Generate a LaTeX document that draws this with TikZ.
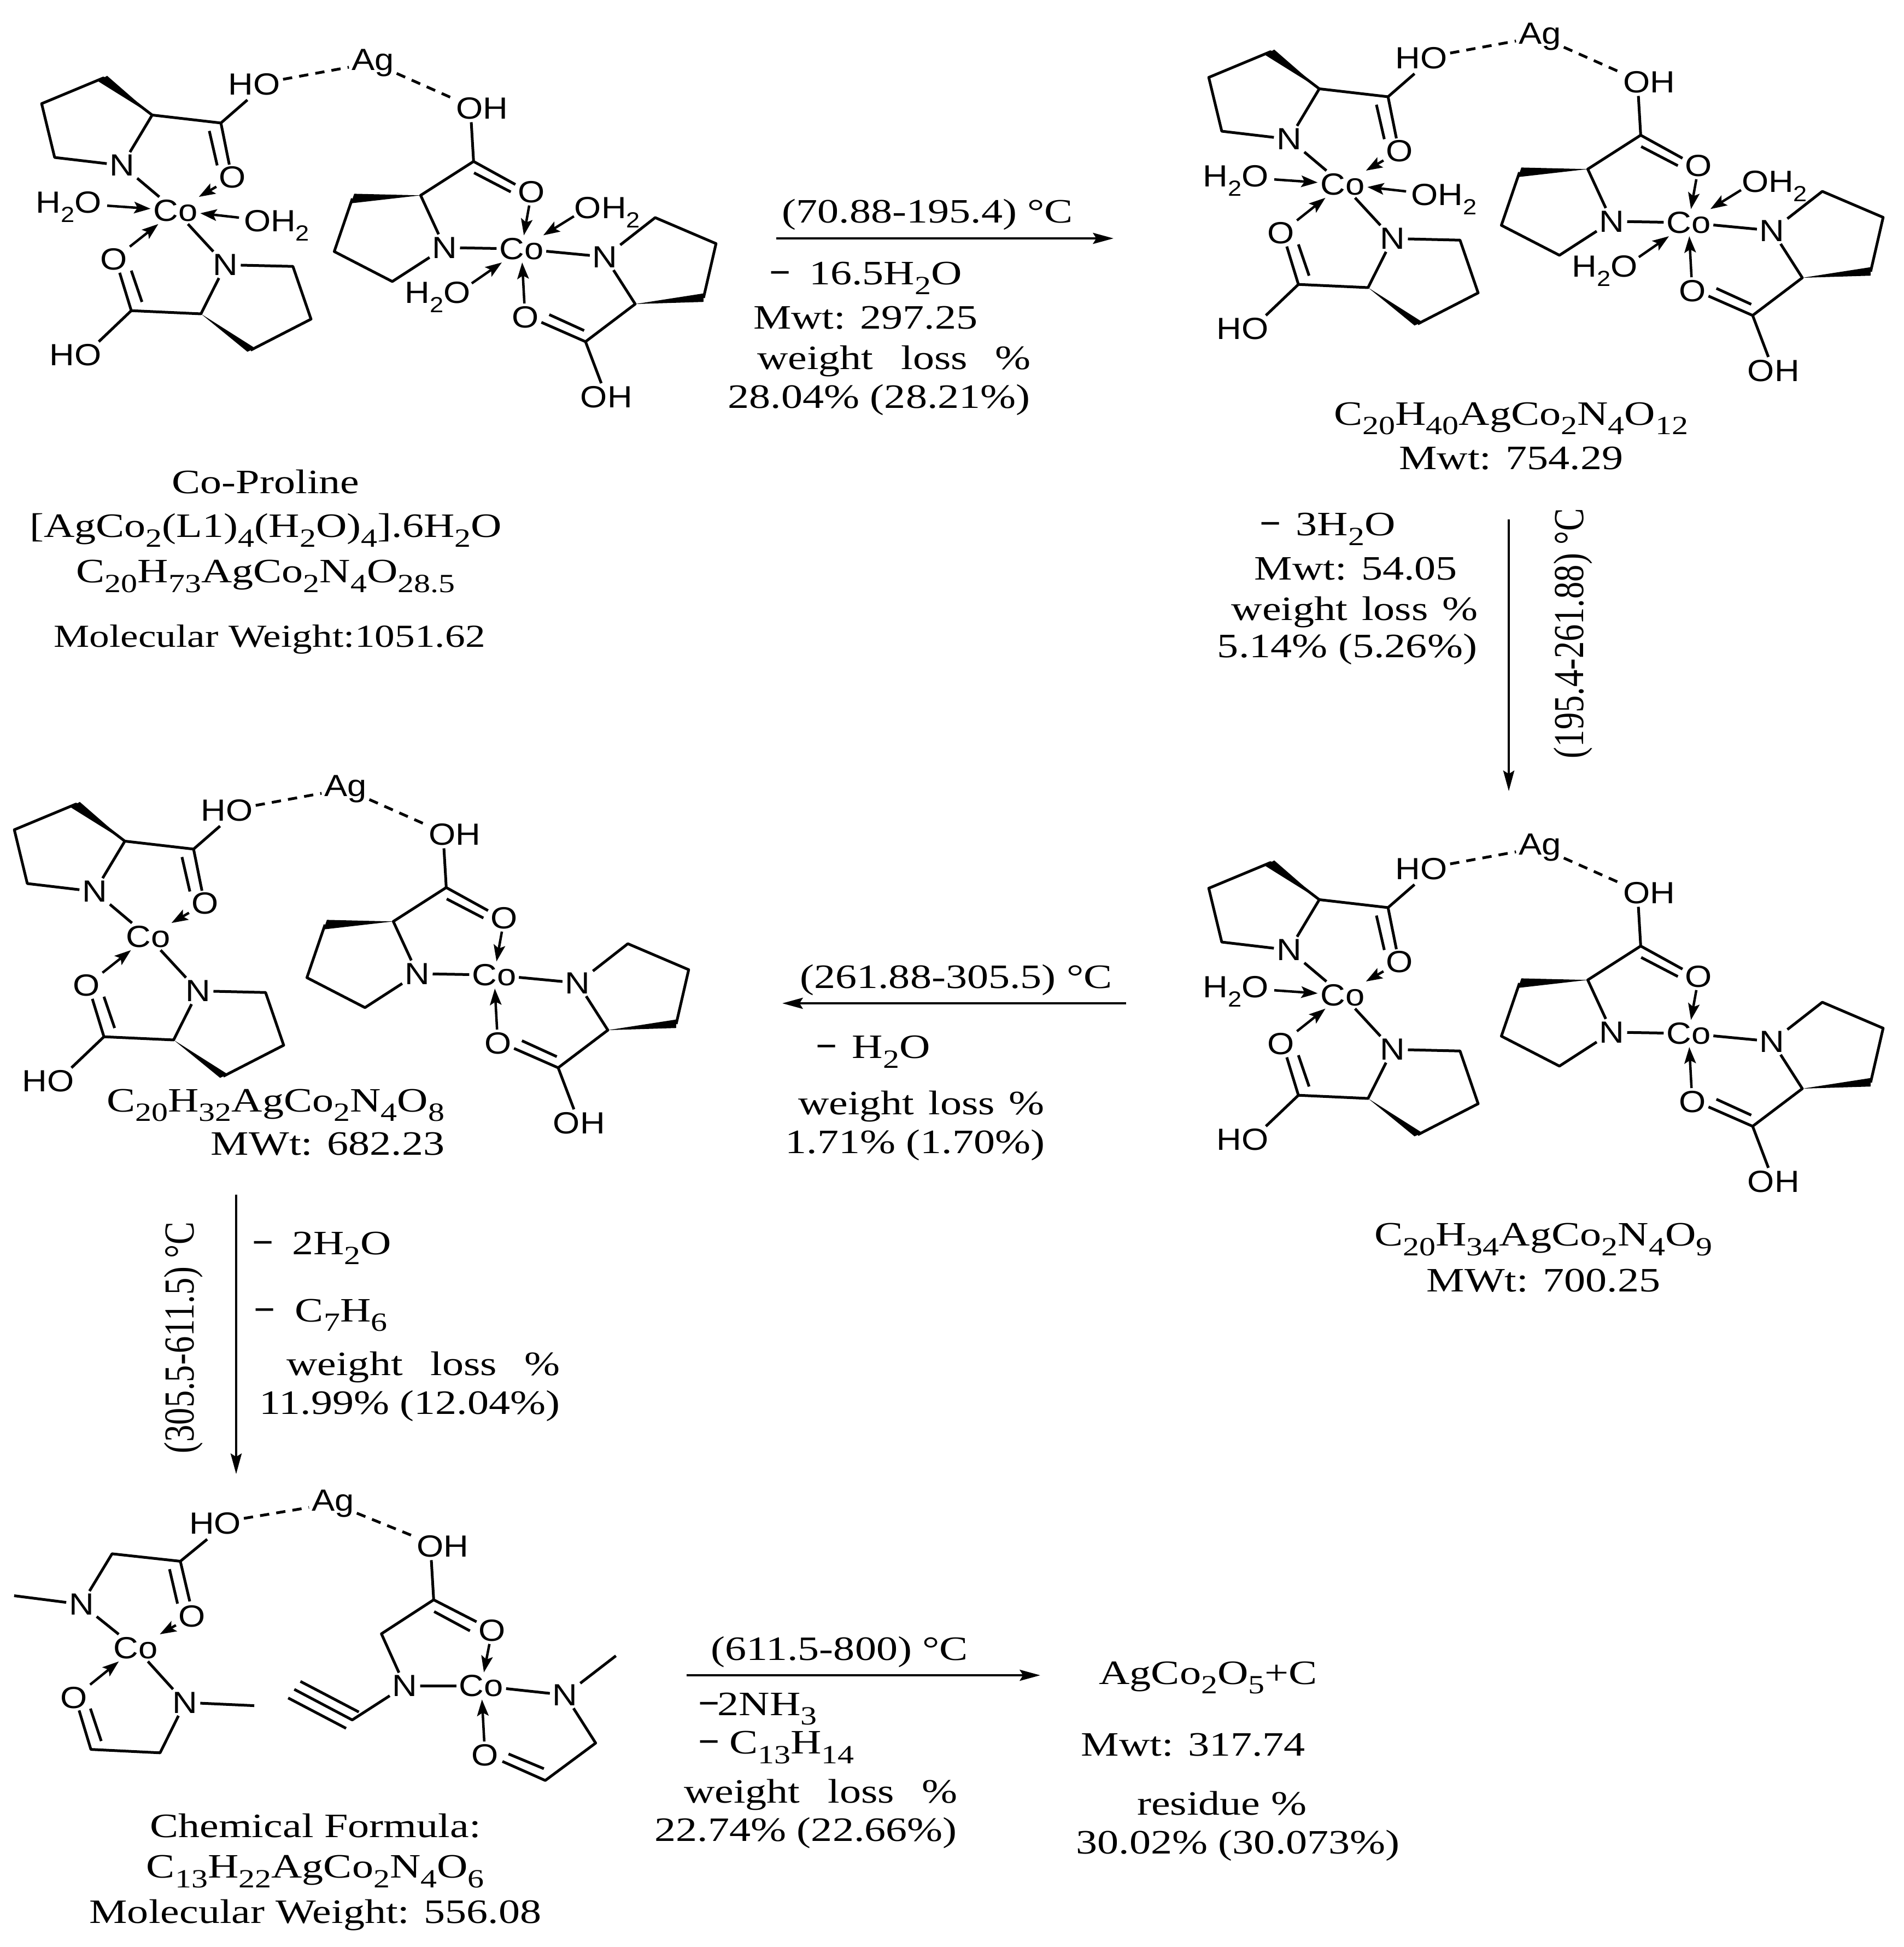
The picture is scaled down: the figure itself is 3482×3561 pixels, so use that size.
\documentclass[tikz,border=0pt]{standalone}
\usepackage{fontspec}
\usetikzlibrary{arrows.meta}
\setmainfont{Liberation Serif}[FakeStretch=1.25]
\newfontfamily\rawserif{Liberation Serif}
\newfontfamily\chem{Liberation Sans}[FakeStretch=1.13]
\newcommand\sbt[1]{\raisebox{-0.28em}{\fontsize{9.6}{10}\selectfont #1}}
\newcommand\sbc[1]{\raisebox{-0.3em}{\fontsize{8}{9}\selectfont #1}}
\newcommand\mn{\scalebox{0.8}[1.5]{–}}
\tikzset{
  atom/.style={font=\chem\fontsize{11.2}{13}\selectfont,inner sep=0.8pt},
  txt/.style={font=\fontsize{12.5}{14}\selectfont,inner sep=0pt},
  bond/.style={line width=1pt,line join=round},
  dashbond/.style={line width=1pt,dash pattern=on 3.4pt off 2.6pt},
  coord/.style={line width=0.9pt,-{Stealth[length=6pt,width=4.2pt,inset=1.2pt]}},
  rxn/.style={line width=0.9pt,-{Stealth[length=7.5pt,width=4pt,inset=1.2pt]}},
  tpl/.style 2 args={shift={(2150+#1,#2)},x=0.16992pt,y=-0.09695pt},
  tple/.style={shift={(0,2700)},x=0.17227pt,y=-0.08292pt},
  shr/.style={shift={(0,4.5)},x=0.45428pt,y=-0.45428pt}
}
% the repeated silver-bridged proline dimer
\newcommand\dimer[3]{%
\begin{scope}[tpl={#2}{#3}]
  \node[atom] (#1Ag) at (785,138) {Ag};
  \node[atom] (#1HOa) at (530,220) {HO};
  \node[atom] (#1OHb) at (1020,310) {OH};
  \node[atom] (#1Na) at (245,525) {N};
  \node[atom] (#1Oa) at (483,570) {O};
  \node[atom] (#1CoL) at (360,695) {Co};
  \node[atom] (#1Oc) at (227,880) {O};
  \node[atom] (#1Nc) at (468,900) {N};
  \node[atom] (#1HOc) at (145,1240) {HO};
  \node[atom] (#1Ob) at (1127,625) {O};
  \node[atom] (#1Nb) at (940,835) {N};
  \node[atom] (#1CoR) at (1105,840) {Co};
  \node[atom] (#1Nd) at (1285,870) {N};
  \node[atom] (#1Od) at (1113,1097) {O};
  \node[atom] (#1OHd) at (1288,1398) {OH};
  \coordinate (#1a1) at (310,335);
  \coordinate (#1a2) at (458,365);
  \coordinate (#1a3) at (205,195);
  \coordinate (#1a4) at (72,292);
  \coordinate (#1a5) at (100,495);
  \coordinate (#1w1) at (213,187);
  \coordinate (#1w2) at (193,207);
  \coordinate (#1a6) at (433,395);
  \coordinate (#1a7) at (450,525);
  \coordinate (#1a8) at (515,278);
  \coordinate (#1a9) at (476,522);
  \coordinate (#1c1) at (415,1085);
  \coordinate (#1c2) at (265,1073);
  \coordinate (#1c3) at (613,906);
  \coordinate (#1c4) at (652,1105);
  \coordinate (#1c5) at (522,1222);
  \coordinate (#1w3) at (532,1215);
  \coordinate (#1w4) at (515,1228);
  \coordinate (#1c6) at (240,930);
  \coordinate (#1c7) at (288,1040);
  \coordinate (#1c8) at (265,922);
  \coordinate (#1c9) at (195,1190);
  \coordinate (#1d0) at (965,278);
  \coordinate (#1d1) at (997,362);
  \coordinate (#1d2) at (1002,510);
  \coordinate (#1d3) at (1092,597);
  \coordinate (#1d4) at (1003,553);
  \coordinate (#1d5) at (1082,625);
  \coordinate (#1d6) at (888,638);
  \coordinate (#1w5) at (745,632);
  \coordinate (#1w6) at (738,668);
  \coordinate (#1d7) at (741,650);
  \coordinate (#1d8) at (702,850);
  \coordinate (#1d9) at (827,963);
  \coordinate (#1e1) at (1393,722);
  \coordinate (#1e2) at (1524,820);
  \coordinate (#1e3) at (1497,1025);
  \coordinate (#1w7) at (1497,1008);
  \coordinate (#1w8) at (1497,1040);
  \coordinate (#1e4) at (1350,1048);
  \coordinate (#1e5) at (1243,1190);
  \coordinate (#1e6) at (1148,1117);
  \coordinate (#1e7) at (1240,1148);
  \coordinate (#1e8) at (1165,1088);
\end{scope}
\draw[dashbond] (#1HOa) -- (#1Ag);
\draw[dashbond] (#1Ag) -- (#1d0);
\draw[bond] (#1a1) -- (#1a3) -- (#1a4) -- (#1a5) -- (#1Na);
\fill (#1a1) -- (#1w1) -- (#1w2) -- cycle;
\draw[bond] (#1Na) -- (#1a1) -- (#1a2) -- (#1a8);
\draw[bond] (#1a2) -- (#1a9);
\draw[bond] (#1a6) -- (#1a7);
\draw[coord] (#1Oa) -- (#1CoL);
\draw[bond] (#1Na) -- (#1CoL);
\draw[coord] (#1Oc) -- (#1CoL);
\draw[bond] (#1CoL) -- (#1Nc);
\draw[bond] (#1Nc) -- (#1c3) -- (#1c4) -- (#1c5);
\fill (#1c1) -- (#1w3) -- (#1w4) -- cycle;
\draw[bond] (#1Nc) -- (#1c1) -- (#1c2) -- (#1c6);
\draw[bond] (#1c7) -- (#1c8);
\draw[bond] (#1c2) -- (#1c9);
\draw[bond] (#1d1) -- (#1d2) -- (#1d3);
\draw[bond] (#1d4) -- (#1d5);
\draw[coord] (#1Ob) -- (#1CoR);
\draw[bond] (#1d2) -- (#1d6) -- (#1Nb) -- (#1d9) -- (#1d8) -- (#1d7);
\fill (#1d6) -- (#1w5) -- (#1w6) -- cycle;
\draw[bond] (#1Nb) -- (#1CoR) -- (#1Nd);
\draw[bond] (#1Nd) -- (#1e1) -- (#1e2) -- (#1e3);
\fill (#1e4) -- (#1w7) -- (#1w8) -- cycle;
\draw[bond] (#1Nd) -- (#1e4) -- (#1e5) -- (#1OHd);
\draw[bond] (#1e5) -- (#1e6);
\draw[bond] (#1e7) -- (#1e8);
\draw[coord] (#1Od) -- (#1CoR);
}
\newcommand\waterone[3]{%
\begin{scope}[tpl={#2}{#3}]
  \node[atom] (#1Wa) at (130,682) {H\sbc{2}O};
  \coordinate (#1Was) at (213,677);
\end{scope}
\draw[coord] (#1Was) -- (#1CoL);
}
\newcommand\waterthree[3]{%
\begin{scope}[tpl={#2}{#3}]
  \node[atom] (#1Wb) at (578,752) {OH\sbc{2}};
  \coordinate (#1Wbs) at (497,722);
  \node[atom] (#1Wc) at (925,1022) {H\sbc{2}O};
  \coordinate (#1Wcs) at (998,970);
  \node[atom] (#1Wd) at (1290,702) {OH\sbc{2}};
  \coordinate (#1Wds) at (1218,717);
\end{scope}
\draw[coord] (#1Wbs) -- (#1CoL);
\draw[coord] (#1Wcs) -- (#1CoR);
\draw[coord] (#1Wds) -- (#1CoR);
}
\begin{document}
\begin{tikzpicture}[x=0.2pt,y=-0.2pt]
\path[use as bounding box] (0,0) rectangle (3482,3561);
\dimer{a}{-2135}{48}
\waterone{a}{-2135}{48}
\waterthree{a}{-2135}{48}
\dimer{b}{0}{0}
\waterone{b}{0}{0}
\waterthree{b}{0}{0}
\dimer{d}{0}{1483}
\waterone{d}{0}{1483}
\dimer{c}{-2185}{1376}
% last structure
\begin{scope}[tple]
  \node[atom] (eAg) at (707,120) {Ag};
  \node[atom] (eHOa) at (457,207) {HO};
  \node[atom] (eOHb) at (940,310) {OH};
  \node[atom] (eNa) at (173,565) {N};
  \node[atom] (eOa) at (408,617) {O};
  \node[atom] (eCoL) at (288,757) {Co};
  \node[atom] (eOc) at (157,977) {O};
  \node[atom] (eNc) at (393,998) {N};
  \node[atom] (eOb) at (1045,680) {O};
  \node[atom] (eNb) at (860,925) {N};
  \node[atom] (eCoR) at (1022,925) {Co};
  \node[atom] (eNd) at (1200,965) {N};
  \node[atom] (eOd) at (1030,1230) {O};
  \coordinate (ed0) at (885,270);
  \coordinate (eo1) at (440,278);
  \coordinate (ec1) at (383,375);
  \coordinate (ec2) at (238,342);
  \coordinate (ec3) at (403,552);
  \coordinate (ec4) at (360,410);
  \coordinate (ec5) at (377,562);
  \coordinate (em1) at (30,527);
  \coordinate (em2) at (540,1012);
  \coordinate (ef1) at (340,1220);
  \coordinate (ef2) at (193,1205);
  \coordinate (ef3) at (168,1033);
  \coordinate (ef4) at (215,1168);
  \coordinate (ef5) at (192,1025);
  \coordinate (er1) at (916,370);
  \coordinate (er2) at (921,545);
  \coordinate (er3) at (1012,642);
  \coordinate (er4) at (922,597);
  \coordinate (er5) at (998,682);
  \coordinate (er6) at (810,695);
  \coordinate (et0) at (748,1075);
  \coordinate (et1) at (625,940);
  \coordinate (et2) at (762,1040);
  \coordinate (et3) at (638,905);
  \coordinate (et4) at (735,1112);
  \coordinate (et5) at (612,978);
  \coordinate (em3) at (1308,792);
  \coordinate (eg1) at (1265,1177);
  \coordinate (eg2) at (1158,1342);
  \coordinate (eg3) at (1067,1258);
  \coordinate (eg4) at (1155,1290);
  \coordinate (eg5) at (1080,1225);
\end{scope}
\draw[dashbond] (eHOa) -- (eAg);
\draw[dashbond] (eAg) -- (ed0);
\draw[bond] (eNa) -- (ec2) -- (ec1) -- (eo1);
\draw[bond] (ec1) -- (ec3);
\draw[bond] (ec4) -- (ec5);
\draw[coord] (eOa) -- (eCoL);
\draw[bond] (em1) -- (eNa) -- (eCoL) -- (eNc) -- (em2);
\draw[coord] (eOc) -- (eCoL);
\draw[bond] (eNc) -- (ef1) -- (ef2) -- (ef3);
\draw[bond] (ef4) -- (ef5);
\draw[bond] (er1) -- (er2) -- (er3);
\draw[bond] (er4) -- (er5);
\draw[coord] (eOb) -- (eCoR);
\draw[bond] (er2) -- (er6) -- (eNb) -- (et0) -- (et1);
\draw[bond] (et2) -- (et3);
\draw[bond] (et4) -- (et5);
\draw[bond] (eNb) -- (eCoR) -- (eNd) -- (em3);
\draw[bond] (eNd) -- (eg1) -- (eg2) -- (eg3);
\draw[bond] (eg4) -- (eg5);
\draw[coord] (eOd) -- (eCoR);
% reaction arrows
\coordinate (r1s) at (1420,436); \coordinate (r1e) at (2037,436);
\coordinate (r2s) at (2760,950); \coordinate (r2e) at (2760,1447);
\coordinate (r3s) at (2060,1835); \coordinate (r3e) at (1431,1835);
\coordinate (r4s) at (432,2185); \coordinate (r4e) at (432,2696);
\coordinate (r5s) at (1256,3064); \coordinate (r5e) at (1903,3064);
\draw[rxn] (r1s) -- (r1e);
\draw[rxn] (r2s) -- (r2e);
\draw[rxn] (r3s) -- (r3e);
\draw[rxn] (r4s) -- (r4e);
\draw[rxn] (r5s) -- (r5e);
% texts
\begin{scope}[shr]
\node[txt] (t01) at (214,386) {Co-Proline};
\node[txt] (t02) at (214,425) {[AgCo\sbt{2}(L1)\sbt{4}(H\sbt{2}O)\sbt{4}].6H\sbt{2}O};
\node[txt] (t03) at (214,462) {C\sbt{20}H\sbt{73}AgCo\sbt{2}N\sbt{4}O\sbt{28.5}};
\node[txt,font=\fontsize{11.75}{13}\selectfont] (t04) at (217,513) {Molecular Weight:1051.62};
\node[txt] (t05) at (747,171) {(70.88-195.4) °C};
\node[txt] (t06) at (698,222) {\mn\hspace{0.6em}16.5H\sbt{2}O};
\node[txt] (t07) at (697,254) {Mwt: 297.25};
\node[txt] (t08) at (720,289) {weight\hspace{0.5em} loss\hspace{0.5em} \%};
\node[txt] (t09) at (708,320) {28.04\% (28.21\%)};
\node[txt] (t10) at (1217,335) {C\sbt{20}H\sbt{40}AgCo\sbt{2}N\sbt{4}O\sbt{12}};
\node[txt] (t11) at (1217,367) {Mwt: 754.29};
\node[txt] (t12) at (1070,424) {\mn\hspace{0.5em}3H\sbt{2}O};
\node[txt] (t13) at (1092,456) {Mwt: 54.05};
\node[txt] (t14) at (1091,491) {weight\hspace{0.1em} loss\hspace{0.1em} \%};
\node[txt] (t15) at (1085,521) {5.14\% (5.26\%)};
\node[txt,rotate=90] (t16) at (1267,508) {\scalebox{1}[1.25]{\rawserif\fontsize{12.5}{14}\selectfont (195.4-261.88) °C}};
\node[txt] (t17) at (1243,996) {C\sbt{20}H\sbt{34}AgCo\sbt{2}N\sbt{4}O\sbt{9}};
\node[txt] (t18) at (1243,1029) {MWt: 700.25};
\node[txt] (t19) at (770,787) {(261.88-305.5) °C};
\node[txt] (t20) at (704,845) {\mn\hspace{0.5em}H\sbt{2}O};
\node[txt] (t21) at (742,889) {weight\hspace{0.1em} loss\hspace{0.1em} \%};
\node[txt] (t22) at (737,920) {1.71\% (1.70\%)};
\node[txt] (t23) at (222,888) {C\sbt{20}H\sbt{32}AgCo\sbt{2}N\sbt{4}O\sbt{8}};
\node[txt] (t24) at (264,919) {MWt: 682.23};
\node[txt,rotate=90] (t25) at (148,1075) {\scalebox{1}[1.25]{\rawserif\fontsize{12.5}{14}\selectfont (305.5-611.5) °C}};
\node[txt] (t26) at (260,1003) {\mn\hspace{0.6em}2H\sbt{2}O};
\node[txt] (t27) at (259,1057) {\mn\hspace{0.65em}C\sbt{7}H\sbt{6}};
\node[txt] (t28) at (341,1099) {weight\hspace{0.5em} loss\hspace{0.5em} \%};
\node[txt] (t29) at (330,1130) {11.99\% (12.04\%)};
\node[txt] (t30) at (254,1468) {Chemical Formula:};
\node[txt] (t31) at (254,1505) {C\sbt{13}H\sbt{22}AgCo\sbt{2}N\sbt{4}O\sbt{6}};
\node[txt] (t32) at (254,1540) {Molecular Weight: 556.08};
\node[txt] (t33) at (676,1328) {(611.5-800) °C};
\node[txt] (t34) at (611,1374) {\mn2NH\sbt{3}};
\node[txt] (t35) at (626,1405) {\mn\hspace{0.35em}C\sbt{13}H\sbt{14}};
\node[txt] (t36) at (661,1443) {weight\hspace{0.5em} loss\hspace{0.5em} \%};
\node[txt] (t37) at (649,1474) {22.74\% (22.66\%)};
\node[txt] (t38) at (973,1349) {AgCo\sbt{2}O\sbt{5}+C};
\node[txt] (t39) at (961,1403) {Mwt: 317.74};
\node[txt] (t40) at (984,1450) {residue \%};
\node[txt] (t41) at (997,1484) {30.02\% (30.073\%)};
\end{scope}
\end{tikzpicture}
\end{document}
